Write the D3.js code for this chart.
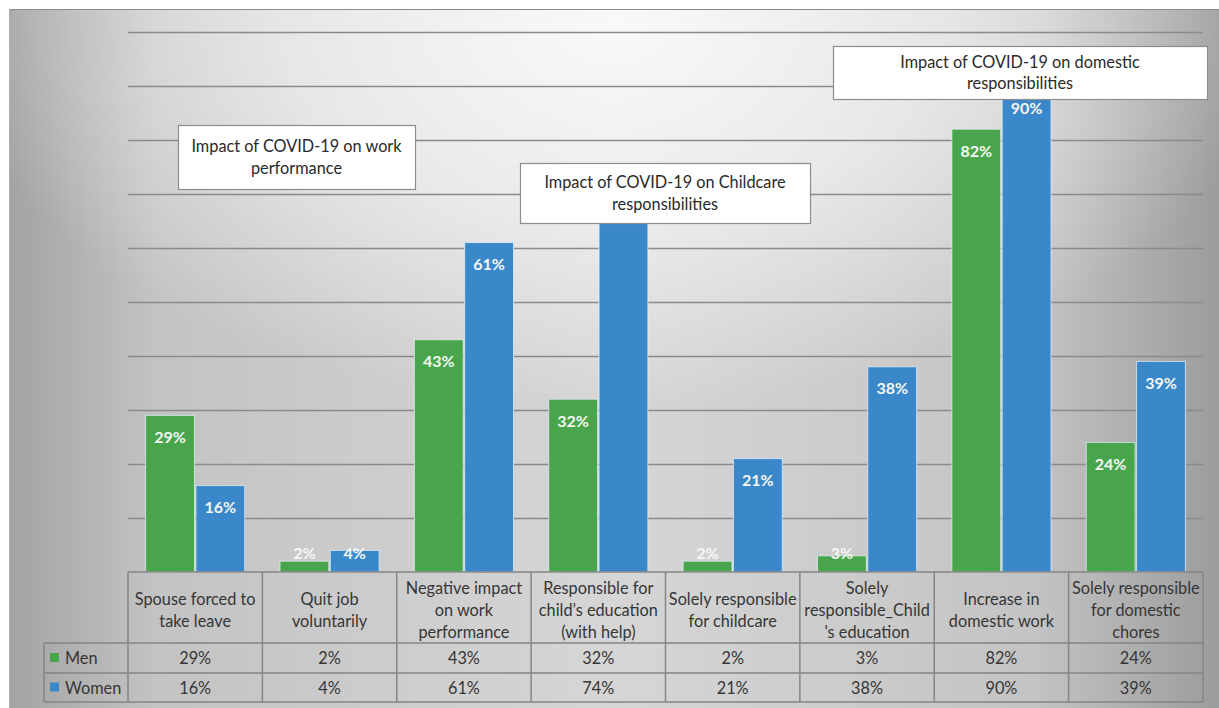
<!DOCTYPE html>
<html>
<head>
<meta charset="utf-8">
<script src="https://cdn.jsdelivr.net/npm/d3@7"></script>
<style>
  html, body { margin: 0; padding: 0; background: #ffffff; }
  svg { display: block; }
  text { font-family: Lato, "Open Sans", "Noto Sans", sans-serif; }
</style>
</head>
<body>
<svg id="chart" width="1219" height="708"></svg>
<script>
// Survey categories (line breaks as shown in the table header)
const categories = [
  "Spouse forced to\ntake leave",
  "Quit job\nvoluntarily",
  "Negative impact\non work\nperformance",
  "Responsible for\nchild\u2019s education\n(with help)",
  "Solely responsible\nfor childcare",
  "Solely\nresponsible_Child\n's education",
  "Increase in\ndomestic work",
  "Solely responsible\nfor domestic\nchores"
];
const seriesNames = ["Men", "Women"];
const menValues = [29, 2, 43, 32, 2, 3, 82, 24];
const womenValues = [16, 4, 61, 74, 21, 38, 90, 39];
const gridTicks = [10, 20, 30, 40, 50, 60, 70, 80, 90, 100];
const annotationTexts = [
  ["Impact of COVID-19 on work", "performance"],
  ["Impact of COVID-19 on Childcare", "responsibilities"],
  ["Impact of COVID-19 on domestic", "responsibilities"]
];

const colors = { Men: "#49a54b", Women: "#3a88c9" };
const W = 1219, H = 708;
const plot = { left: 128, right: 1203, top: 32, bottom: 572 };
const textColor = "#363636";

const svg = d3.select("#chart");
const defs = svg.append("defs");

// Background: grey with darker sides and a bright area at the top centre
const lg = defs.append("linearGradient").attr("id", "bgH").attr("x1", 0).attr("x2", 1).attr("y1", 0).attr("y2", 0);
[[0, "#a3a3a3"], [0.12, "#c3c3c3"], [0.5, "#d6d6d6"], [0.85, "#c3c3c3"], [1, "#9c9c9c"]]
  .forEach(([o, c]) => lg.append("stop").attr("offset", o).attr("stop-color", c));
const rg = defs.append("radialGradient").attr("id", "bgGlow").attr("cx", 0.5).attr("cy", 0.02).attr("r", 0.55);
[[0, 0.85], [0.5, 0.55], [1, 0]]
  .forEach(([o, a]) => rg.append("stop").attr("offset", o).attr("stop-color", "#ffffff").attr("stop-opacity", a));

const frame = { x: 9, y: 9, w: W - 9, h: H - 9 };
svg.append("rect").attr("x", frame.x).attr("y", frame.y).attr("width", frame.w).attr("height", frame.h).attr("fill", "url(#bgH)");
svg.append("rect").attr("x", frame.x).attr("y", frame.y).attr("width", frame.w).attr("height", frame.h).attr("fill", "url(#bgGlow)");
svg.append("line").attr("x1", frame.x).attr("x2", W).attr("y1", frame.y + 0.5).attr("y2", frame.y + 0.5)
  .attr("stroke", "#8c8c8c").attr("stroke-width", 1.2);
svg.append("line").attr("x1", frame.x + 0.5).attr("x2", frame.x + 0.5).attr("y1", frame.y).attr("y2", H)
  .attr("stroke", "#b0b0b0").attr("stroke-width", 1);

// Scales
const x0 = d3.scaleBand().domain(d3.range(categories.length)).range([plot.left, plot.right]).padding(0);
const x1 = d3.scaleBand().domain(seriesNames).range([0, x0.bandwidth()]).paddingInner(0.03).paddingOuter(0.35);
const y = d3.scaleLinear().domain([0, 100]).range([plot.bottom, plot.top]);

// Gridlines
const yAxis = d3.axisLeft(y).tickValues(gridTicks).tickSize(-(plot.right - plot.left)).tickFormat("");
const gAxis = svg.append("g").attr("transform", `translate(${plot.left},0)`).call(yAxis);
gAxis.select(".domain").remove();
gAxis.selectAll(".tick line").attr("stroke", "#8a8a8a").attr("stroke-width", 1.6);

// Callout boxes (drawn on top of the bars)
const boxLayout = [
  { x: 178, y: 125, w: 237, h: 64 },
  { x: 520, y: 163, w: 290, h: 60 },
  { x: 833, y: 46, w: 374, h: 53 }
];

// Bars
const rows = categories.map((c, i) => ({ i, values: [
  { key: "Men", v: menValues[i] }, { key: "Women", v: womenValues[i] }
]}));
const groups = svg.append("g").selectAll("g").data(rows).join("g")
  .attr("transform", d => `translate(${x0(d.i)},0)`);
groups.selectAll("rect").data(d => d.values).join("rect")
  .attr("x", d => x1(d.key))
  .attr("y", d => y(d.v))
  .attr("width", x1.bandwidth())
  .attr("height", d => y(0) - y(d.v))
  .attr("fill", d => colors[d.key])
  .attr("stroke", "rgba(225,240,250,0.75)")
  .attr("stroke-width", 1);

// Value labels, inside the top of each bar; a label that sits under a callout box stays hidden
const labelY = d => Math.min(y(d.v) + 22, y(0) - 19) + 5.5;
const underBox = (cx, cy) => boxLayout.some(b => cx > b.x && cx < b.x + b.w && cy - 12 > b.y && cy < b.y + b.h + 4);
groups.selectAll("text").data(d => d.values.map(v => ({ ...v, i: d.i }))).join("text")
  .attr("x", d => x1(d.key) + x1.bandwidth() / 2)
  .attr("y", labelY)
  .attr("text-anchor", "middle")
  .attr("fill", "#f4f7f4")
  .attr("font-size", 16)
  .attr("font-weight", 700)
  .attr("display", d => underBox(x0(d.i) + x1(d.key) + x1.bandwidth() / 2, labelY(d)) ? "none" : null)
  .text(d => d.v + "%");

annotationTexts.forEach((lines, k) => {
  const b = boxLayout[k];
  const g = svg.append("g");
  g.append("rect").attr("x", b.x + 0.5).attr("y", b.y + 0.5).attr("width", b.w).attr("height", b.h)
    .attr("fill", "#ffffff").attr("stroke", "#8c8c8c").attr("stroke-width", 1.2);
  const lh = 21.5;
  lines.forEach((t, j) => {
    g.append("text")
      .attr("x", b.x + b.w / 2)
      .attr("y", b.y + b.h / 2 + (j - (lines.length - 1) / 2) * lh + 6)
      .attr("text-anchor", "middle").attr("font-size", 16.3).attr("fill", "#2a2a2a")
      .text(t);
  });
});

// Data table beneath the plot
const table = { top: 572, headBottom: 643, row1Bottom: 673, bottom: 702, legendLeft: 44 };
const tg = svg.append("g");
const lineColor = "#858585";
const hline = (x1p, x2p, yp) => tg.append("line").attr("x1", x1p).attr("x2", x2p).attr("y1", yp).attr("y2", yp)
  .attr("stroke", lineColor).attr("stroke-width", 1.5);
const vline = (xp, y1p, y2p) => tg.append("line").attr("x1", xp).attr("x2", xp).attr("y1", y1p).attr("y2", y2p)
  .attr("stroke", lineColor).attr("stroke-width", 1.5);

hline(plot.left, plot.right, table.top);
hline(table.legendLeft, plot.right, table.headBottom);
hline(table.legendLeft, plot.right, table.row1Bottom);
hline(table.legendLeft, plot.right, table.bottom);
vline(table.legendLeft, table.headBottom, table.bottom);
d3.range(categories.length + 1).forEach(i => {
  const xp = i < categories.length ? x0(i) : plot.right;
  vline(xp, table.top, table.bottom);
});

// Header cells
categories.forEach((c, i) => {
  const lines = c.split("\n");
  const cx = x0(i) + x0.bandwidth() / 2;
  const cy = (table.top + table.headBottom) / 2 + 2;
  lines.forEach((t, j) => {
    tg.append("text")
      .attr("x", cx)
      .attr("y", cy + (j - (lines.length - 1) / 2) * 22 + 6)
      .attr("text-anchor", "middle").attr("font-size", 16.3).attr("fill", textColor)
      .text(t);
  });
});

// Value rows with legend keys
const rowData = [
  { name: "Men", values: menValues, top: table.headBottom, bottom: table.row1Bottom },
  { name: "Women", values: womenValues, top: table.row1Bottom, bottom: table.bottom }
];
rowData.forEach(r => {
  const cy = (r.top + r.bottom) / 2;
  tg.append("rect").attr("x", 50).attr("y", cy - 5).attr("width", 9).attr("height", 9)
    .attr("fill", colors[r.name]);
  tg.append("text").attr("x", 65).attr("y", cy + 6).attr("font-size", 16.3).attr("fill", textColor).text(r.name);
  r.values.forEach((v, i) => {
    tg.append("text")
      .attr("x", x0(i) + x0.bandwidth() / 2).attr("y", cy + 6)
      .attr("text-anchor", "middle").attr("font-size", 16.3).attr("fill", textColor)
      .text(v + "%");
  });
});
</script>
</body>
</html>
